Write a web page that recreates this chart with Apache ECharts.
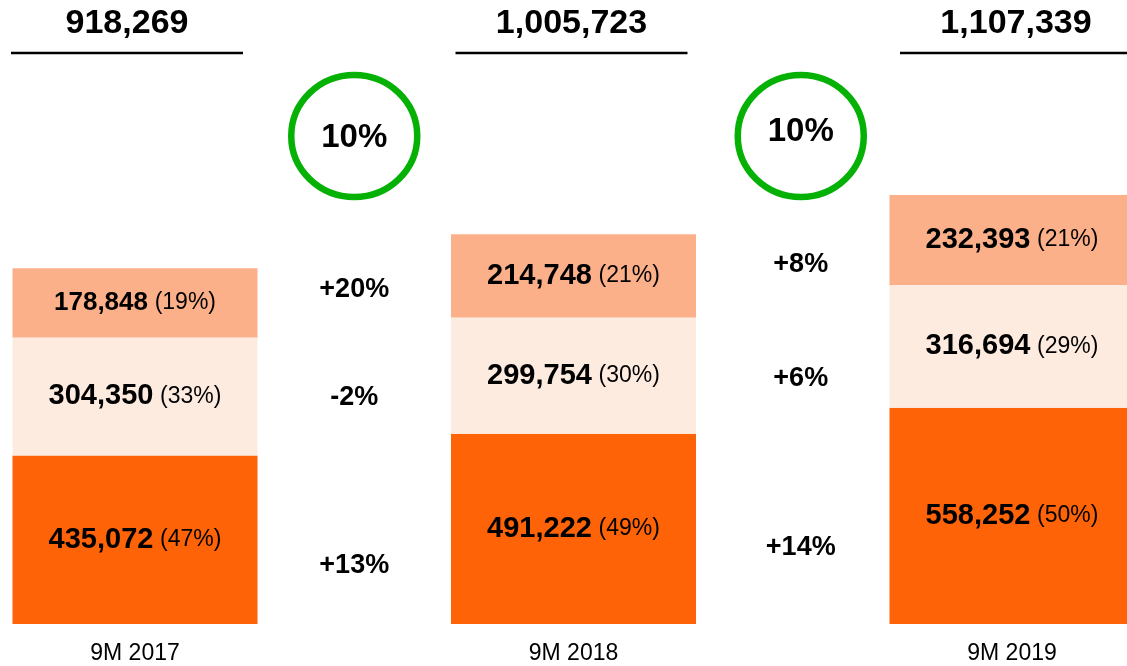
<!DOCTYPE html>
<html>
<head>
<meta charset="utf-8">
<style>
  html, body { margin: 0; padding: 0; background: #fff; }
  #chart { width: 1127px; height: 666px; }
</style>
<script src="https://cdn.jsdelivr.net/npm/echarts@6/dist/echarts.min.js"></script>
</head>
<body>
<div id="chart"></div>
<script>
// data
var categories = ["9M 2017", "9M 2018", "9M 2019"];
var bottomValues = [435072, 491222, 558252];
var middleValues = [304350, 299754, 316694];
var topValues = [178848, 214748, 232393];
var bottomPct = [47, 49, 50];
var middlePct = [33, 30, 29];
var topPct = [19, 21, 21];
var totals = [918269, 1005723, 1107339];
var totalGrowth = ["10%", "10%"];
var topGrowth = ["+20%", "+8%"];
var middleGrowth = ["-2%", "+6%"];
var bottomGrowth = ["+13%", "+14%"];

var FONT = "'Liberation Sans', Arial, sans-serif";
var fmt = function (v) {
  return Number(v).toLocaleString("en-US");
};

var chart = echarts.init(document.getElementById("chart"));

function segLabel(pcts, small) {
  return {
    show: true,
    position: "inside",
    color: "#000",
    fontFamily: FONT,
    formatter: function (p) {
      var key = small && p.dataIndex === 0 ? "s" : "b";
      return "{" + key + "|" + fmt(p.value) + "}  {n|(" + pcts[p.dataIndex] + "%)}";
    },
    rich: {
      b: { fontSize: 29, fontWeight: "bold", fontFamily: FONT, color: "#000" },
      s: { fontSize: 26, fontWeight: "bold", fontFamily: FONT, color: "#000" },
      n: { fontSize: 23, fontFamily: FONT, color: "#000" },
    },
  };
}

function barSeries(name, values, pcts, color, small) {
  return {
    name: name,
    type: "bar",
    stack: "total",
    barWidth: 245,
    data: values,
    itemStyle: { color: color },
    label: segLabel(pcts, small),
    emphasis: { disabled: true },
    silent: true,
  };
}

chart.setOption({
  animation: false,
  grid: { left: 135, right: 115, top: 4, bottom: 42 },
  xAxis: [
    {
      type: "category",
      data: categories,
      boundaryGap: false,
      axisLine: { show: false },
      axisTick: { show: false },
      axisLabel: {
        margin: 18,
        fontSize: 23,
        fontFamily: FONT,
        color: "#000",
      },
    },
    { type: "value", min: 0, max: 2, show: false },
  ],
  yAxis: {
    type: "value",
    min: 0,
    max: 1600000,
    show: false,
  },
  series: [
    barSeries("bottom", bottomValues, bottomPct, "#FF6308"),
    barSeries("middle", middleValues, middlePct, "#FEEBE0"),
    barSeries("top", topValues, topPct, "#FCB08A", true),
    {
      // totals with underline at the top
      type: "custom",
      silent: true,
      data: totals.map(function (v, i) {
        return [i, v];
      }),
      renderItem: function (params, api) {
        var x = api.coord([api.value(0), 0])[0] + [-8, -2, 4][params.dataIndex];
        return {
          type: "group",
          children: [
            {
              type: "text",
              x: x,
              y: 24,
              style: {
                text: fmt(api.value(1)),
                font: "bold 34px " + FONT,
                fill: "#000",
                align: "center",
                verticalAlign: "middle",
              },
            },
            {
              type: "line",
              shape: { x1: x - 116, y1: 53, x2: x + 116, y2: 53 },
              style: { stroke: "#000", lineWidth: 2.5 },
            },
          ],
        };
      },
    },
    {
      // growth between years: circle + per-segment changes
      type: "custom",
      xAxisIndex: 1,
      silent: true,
      data: [[0.5], [1.5]],
      renderItem: function (params, api) {
        var c = params.dataIndex;
        var x = api.coord([api.value(0), 0])[0] + [0, 8][c];
        var nudge = [[0, 12, 31], [7, 18, 25]][c];
        var yOf = function (v) {
          return api.coord([0, v])[1];
        };
        var mid = function (base, seg, i) {
          return base[i] + seg[i] / 2;
        };
        var b0 = [0, 0, 0];
        var m0 = bottomValues;
        var t0 = bottomValues.map(function (v, i) {
          return v + middleValues[i];
        });
        var rows = [
          { txt: topGrowth[c], y: (yOf(mid(t0, topValues, c)) + yOf(mid(t0, topValues, c + 1))) / 2 + nudge[0] },
          { txt: middleGrowth[c], y: (yOf(mid(m0, middleValues, c)) + yOf(mid(m0, middleValues, c + 1))) / 2 + nudge[1] },
          { txt: bottomGrowth[c], y: (yOf(mid(b0, bottomValues, c)) + yOf(mid(b0, bottomValues, c + 1))) / 2 + nudge[2] },
        ];
        var children = [
          {
            type: "ellipse",
            shape: { cx: x, cy: 136, rx: 63, ry: 61 },
            style: { fill: "none", stroke: "#06B106", lineWidth: 6.5 },
          },
          {
            type: "text",
            x: x,
            y: [138, 132][c],
            style: {
              text: totalGrowth[c],
              font: "bold 33px " + FONT,
              fill: "#000",
              align: "center",
              verticalAlign: "middle",
            },
          },
        ];
        rows.forEach(function (r) {
          children.push({
            type: "text",
            x: x,
            y: r.y,
            style: {
              text: r.txt,
              font: "bold 27px " + FONT,
              fill: "#000",
              align: "center",
              verticalAlign: "middle",
            },
          });
        });
        return { type: "group", children: children };
      },
    },
  ],
});
</script>
</body>
</html>
